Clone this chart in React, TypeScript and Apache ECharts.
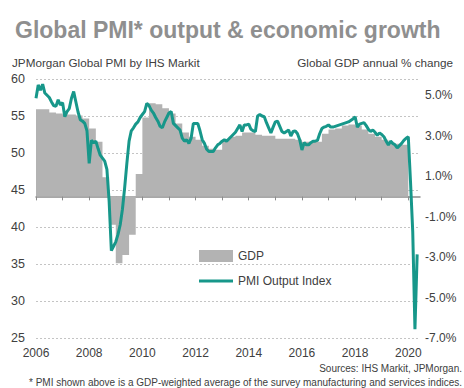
import React, { useEffect, useRef } from 'react';
import * as echarts from 'echarts';

// ---- Data ----
const startYear = 2006;
// Monthly PMI Output Index, Jan 2006 .. May 2020
const pmiOutput: number[] = [
  // 2006
  57.4, 59.2, 58.5, 59.3, 58.1, 57.8, 57.5, 56.9, 56.4, 56.3, 57.2, 56.5,
  // 2007
  56.8, 54.9, 55.6, 56.0, 57.4, 58.3, 56.9, 55.5, 54.5, 54.3, 54.0, 53.0,
  // 2008
  48.6, 51.7, 51.4, 51.6, 50.6, 49.7, 49.3, 48.9, 47.8, 43.5, 36.8, 37.4,
  // 2009
  38.0, 39.0, 40.3, 42.4, 45.3, 48.6, 51.6, 53.0, 53.4, 53.9, 54.2, 54.8,
  // 2010
  55.2, 55.6, 56.7, 56.4, 55.8, 55.4, 54.8, 54.3, 53.6, 53.4, 54.2, 54.8,
  // 2011
  55.4, 55.6, 54.0, 53.7, 53.4, 53.1, 52.0, 51.6, 51.8, 51.3, 52.0, 54.0,
  // 2012
  54.0, 54.0, 53.0, 51.8, 51.3, 50.5, 50.2, 50.2, 50.2, 50.7, 51.1, 51.3,
  // 2013
  51.6, 51.8, 51.6, 51.9, 52.2, 52.5, 52.8, 53.3, 53.8, 52.9, 53.8, 53.8,
  // 2014
  53.9, 53.2, 53.0, 52.9, 55.0, 55.2, 55.0, 54.9, 54.1, 53.4, 52.7, 53.5,
  // 2015
  54.2, 54.3, 53.6, 52.9, 52.7, 52.9, 53.1, 52.3, 52.9, 53.0, 52.6, 51.8,
  // 2016
  50.4, 51.4, 51.1, 51.1, 51.4, 51.6, 51.6, 51.7, 52.6, 53.3, 53.5, 53.6,
  // 2017
  53.8, 53.5, 53.5, 53.6, 53.7, 53.8, 53.9, 54.0, 54.1, 54.2, 54.4, 54.6,
  // 2018
  54.9, 53.5, 53.9, 54.0, 54.1, 53.7, 53.2, 52.9, 53.1, 52.8, 52.4, 52.7,
  // 2019
  52.5, 52.2, 51.6, 51.1, 51.6, 51.3, 51.1, 50.7, 51.0, 51.3, 51.7, 52.0,
  // 2020
  52.2, 46.1, 39.4, 26.2, 36.3,
];

// Quarterly global GDP, annual % change, 2006 Q1 .. 2019 Q4
const gdpQuarterly: number[] = [
  4.3, 4.3, 4.15, 4.1,
  4.05, 4.05, 4.0, 3.85,
  3.35, 2.7, 0.95, -1.4,
  -3.3, -2.9, -1.9, 1.1,
  3.9, 4.6, 4.55, 4.35,
  4.1, 3.6, 3.15, 2.95,
  2.8, 2.5, 2.35, 2.3,
  2.8, 2.95, 3.0, 3.15,
  3.15, 3.05, 3.0, 3.0,
  2.85, 2.85, 2.85, 2.8,
  2.7, 2.7, 2.7, 3.1,
  3.3, 3.35, 3.5, 3.55,
  3.5, 3.3, 3.1, 2.95,
  2.8, 2.65, 2.6, 2.55,
];

const yearTicks: number[] = [2006, 2007, 2008, 2009, 2010, 2011, 2012, 2013, 2014, 2015, 2016, 2017, 2018, 2019, 2020];
const yearLabels: number[] = [2006, 2008, 2010, 2012, 2014, 2016, 2018, 2020];
const gdpAxisLabels: number[] = [-7, -5, -3, -1, 1, 3, 5];

const FONT = '"Liberation Sans", Arial, sans-serif';
const TEXT = '#404040';
const TEAL = '#17978a';
const GRAY = '#b3b3b3';

export default function App() {
  const ref = useRef<HTMLDivElement>(null);

  useEffect(() => {
    if (!ref.current) return;
    const chart = echarts.init(ref.current, undefined, { renderer: 'svg' });

    const pmiData = pmiOutput.map((v, m) => [startYear + m / 12, v]);
    const gdpData = gdpQuarterly.map((v, q) => [startYear + q / 4, v]);
    gdpData.push([startYear + gdpQuarterly.length / 4, gdpQuarterly[gdpQuarterly.length - 1]]);

    const xMin = 2006;
    const xMax = 2020.44;

    chart.setOption({
      animation: false,
      backgroundColor: '#ffffff',
      textStyle: { fontFamily: FONT },
      grid: { left: 36, right: 44, top: 79, bottom: 50, containLabel: false, outerBoundsMode: 'none' },
      graphic: [
        {
          type: 'text', x: 15, y: 30,
          style: { text: 'Global PMI* output & economic growth', fill: '#8f8f8f', font: `bold 23px ${FONT}`, align: 'left', verticalAlign: 'middle' },
        },
        {
          type: 'text', x: 12, y: 62,
          style: { text: 'JPMorgan Global PMI by IHS Markit', fill: TEXT, font: `11.7px ${FONT}`, align: 'left', verticalAlign: 'middle' },
        },
        {
          type: 'text', x: 453, y: 62,
          style: { text: 'Global GDP annual % change', fill: TEXT, font: `11.7px ${FONT}`, align: 'right', verticalAlign: 'middle' },
        },
        {
          type: 'text', x: 462, y: 368,
          style: { text: 'Sources: IHS Markit, JPMorgan.', fill: TEXT, font: `10px ${FONT}`, align: 'right', verticalAlign: 'middle' },
        },
        {
          type: 'text', x: 462, y: 382,
          style: { text: '* PMI shown above is a GDP-weighted average of the survey manufacturing and services indices.', fill: TEXT, font: `10px ${FONT}`, align: 'right', verticalAlign: 'middle' },
        },
      ],
      legend: [
        {
          left: 194, top: 245, orient: 'vertical', itemWidth: 34, itemHeight: 12,
          selectedMode: false,
          textStyle: { fontSize: 12, color: TEXT, fontFamily: FONT },
          data: [{ name: 'GDP', icon: 'rect' }],
        },
        {
          left: 194, top: 270, orient: 'vertical', itemWidth: 34, itemHeight: 3,
          selectedMode: false,
          textStyle: { fontSize: 12, color: TEXT, fontFamily: FONT },
          data: [{ name: 'PMI Output Index', icon: 'rect' }],
        },
      ],
      xAxis: [
        {
          type: 'value', min: xMin, max: xMax, interval: 1,
          axisLine: { show: false }, axisTick: { show: false }, splitLine: { show: false },
          axisLabel: {
            color: TEXT, fontSize: 12, fontFamily: FONT, margin: 9,
            customValues: yearLabels,
            formatter: (v: number) => (yearLabels.indexOf(Math.round(v * 1000) / 1000) >= 0 ? String(v) : ''),
          },
        },
        {
          type: 'value', min: xMin, max: xMax, interval: 1, position: 'bottom',
          axisLine: { show: true, onZero: true, onZeroAxisIndex: 1, lineStyle: { color: '#8c8c8c', width: 1.5 } },
          axisTick: { show: true, length: 4, inside: false, customValues: yearTicks, lineStyle: { color: '#8c8c8c', width: 1 } },
          axisLabel: { show: false },
          splitLine: { show: false },
        },
      ],
      yAxis: [
        {
          type: 'value', min: 25, max: 60, interval: 5, position: 'left',
          axisLine: { show: false }, axisTick: { show: false },
          axisLabel: { color: TEXT, fontSize: 12.5, fontFamily: FONT, margin: 11 },
          splitLine: { show: true, lineStyle: { color: '#c4c4c4', type: [2, 2], width: 1 } },
        },
        {
          type: 'value', min: -7, max: 5.8, interval: 2, position: 'right',
          axisLine: { show: false }, axisTick: { show: false },
          splitLine: { show: false },
          axisLabel: {
            color: TEXT, fontSize: 12, fontFamily: FONT, margin: 5,
            customValues: gdpAxisLabels,
            formatter: (v: number) => {
              const r = Math.round(v * 1000) / 1000;
              return gdpAxisLabels.indexOf(r) >= 0 ? r.toFixed(1) + '%' : '';
            },
          },
        },
      ],
      series: [
        {
          name: 'GDP', type: 'line', xAxisIndex: 0, yAxisIndex: 1,
          data: gdpData, step: 'end', symbol: 'none', showSymbol: false,
          itemStyle: { color: GRAY },
          lineStyle: { width: 0, color: GRAY },
          areaStyle: { color: GRAY, opacity: 1, origin: 0 },
          z: 1,
        },
        {
          name: 'PMI Output Index', type: 'line', xAxisIndex: 0, yAxisIndex: 0,
          data: pmiData, symbol: 'none', showSymbol: false,
          itemStyle: { color: TEAL },
          lineStyle: { width: 3, color: TEAL },
          z: 3,
        },
      ],
    });

    return () => chart.dispose();
  }, []);

  return (
    <div
      ref={ref}
      style={{ position: 'absolute', left: 0, top: 0, width: 464, height: 388, background: '#fff' }}
    />
  );
}
